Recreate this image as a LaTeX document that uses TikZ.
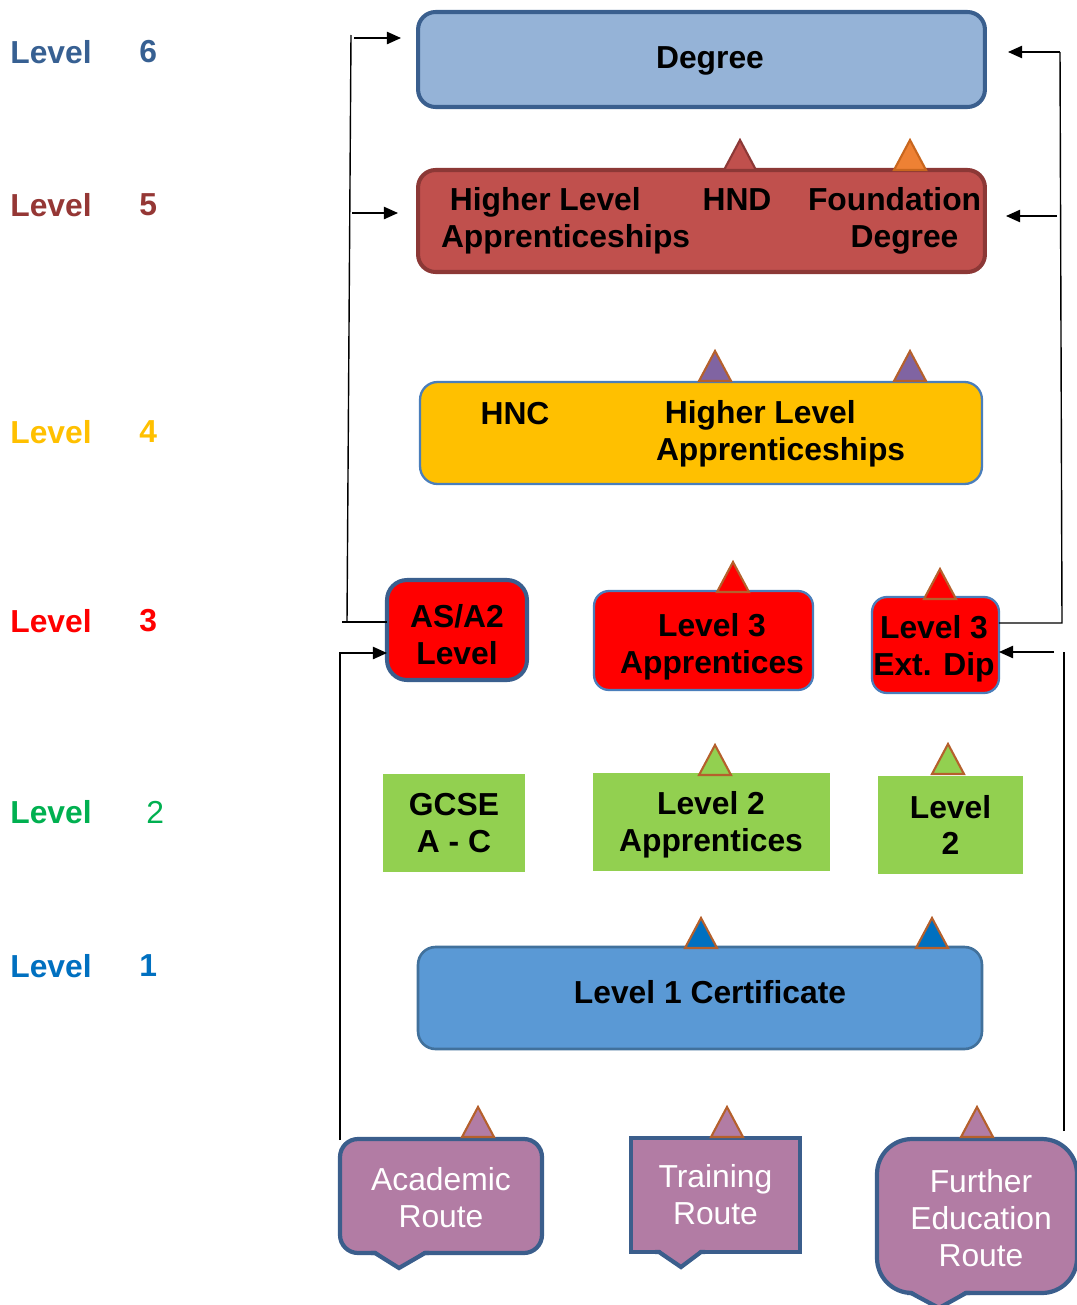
\documentclass[tikz,border=0pt]{standalone}
\usepackage{fontspec}
\setmainfont{Liberation Sans}
\usepackage{tikz}
\usetikzlibrary{calc}
\usetikzlibrary{arrows.meta}

\definecolor{levelsix}{HTML}{376092}
\definecolor{levelfive}{HTML}{953735}
\definecolor{levelfour}{HTML}{FFC000}
\definecolor{levelthree}{HTML}{FF0000}
\definecolor{leveltwo}{HTML}{00B050}
\definecolor{levelone}{HTML}{0070C0}
\definecolor{degfill}{HTML}{95B3D7}
\definecolor{degrim}{HTML}{3A5F8E}
\definecolor{fivefill}{HTML}{C0504D}
\definecolor{fiverim}{HTML}{8C3836}
\definecolor{thinrim}{HTML}{4A7EBB}
\definecolor{twofill}{HTML}{92D050}
\definecolor{onefill}{HTML}{5A99D5}
\definecolor{onerim}{HTML}{41719C}
\definecolor{routefill}{HTML}{B27CA4}
\definecolor{routerim}{HTML}{3B5E8C}
\definecolor{peakrim}{HTML}{B5602C}
\definecolor{orangefill}{HTML}{EE8134}
\definecolor{orangerim}{HTML}{C8661E}
\definecolor{purplefill}{HTML}{8064A2}

\tikzstyle{box}=[rounded corners=0.35cm, font={\bfseries\fontsize{18.1}{21}\selectfont}, align=center, inner sep=0mm, outer sep=0mm]
\tikzstyle{route}=[rounded corners=0.36cm, fill=routefill, draw=routerim, line width=2.4pt, text=white, font={\fontsize{18.1}{21}\selectfont}, align=center, inner sep=0mm, outer sep=0mm]
\tikzstyle{tag}=[font={\bfseries\fontsize{18.1}{21}\selectfont}, inner sep=0mm, anchor=west]
\tikzstyle{link}=[-{Triangle[length=8pt, width=7pt]}, line width=.8pt]
\tikzstyle{wire}=[line width=.8pt]
\tikzstyle{peak}=[line width=1.2pt, line join=miter]
\tikzstyle{tailrim}=[draw=routerim, line width=2.4pt, line join=miter]

% small triangle sitting on a box: [rim] x, base y, fill
\newcommand{\spike}[4][peakrim]{\draw[peak, draw=#1, fill=#4] (#2-16,#3) -- (#2,#3-30) -- (#2+16,#3) -- cycle;}
% pointer under a route box: left x, tip x, right x, base y
\newcommand{\routetail}[4]{%
  \fill[routefill] (#1,#4-3) -- (#2,#4+15) -- (#3,#4-3) -- cycle;
  \draw[tailrim] (#1-4,#4) -- (#1,#4) -- (#2,#4+15) -- (#3,#4) -- (#3+4,#4);}

\begin{document}
\begin{tikzpicture}[x=0.02cm, y=-0.02cm]
    \useasboundingbox (0,0) rectangle (1077,1305);

    % level names
    \node[tag, text=levelsix] (tag6) at (10,52) {Level};
    \node[tag, text=levelsix] (num6) at (139,52) {6};
    \node[tag, text=levelfive] (tag5) at (10,205) {Level};
    \node[tag, text=levelfive] (num5) at (139,205) {5};
    \node[tag, text=levelfour] (tag4) at (10,432) {Level};
    \node[tag, text=levelfour] (num4) at (139,432) {4};
    \node[tag, text=levelthree] (tag3) at (10,621) {Level};
    \node[tag, text=levelthree] (num3) at (139,621) {3};
    \node[tag, text=leveltwo] (tag2) at (10,812) {Level};
    \node[tag, text=leveltwo, font={\fontsize{18.1}{21}\selectfont}] (num2) at (146,812) {2};
    \node[tag, text=levelone] (tag1) at (10,966) {Level};
    \node[tag, text=levelone] (num1) at (139,966) {1};

    % level 6 and 5
    \node[box, fill=degfill, draw=degrim, line width=2.3pt, minimum width=11.34cm, minimum height=1.9cm] (degree) at (701.5,59.5) {};
    \node[box] (degreetext) at (710,61) {Degree};
    \node[box, fill=fivefill, draw=fiverim, line width=2.3pt, minimum width=11.34cm, minimum height=2.04cm] (five) at (701.5,221) {};
    \node[box, align=left, anchor=west] (hlafive) at (441,221) {\hspace*{.28em}Higher Level\\Apprenticeships};
    \node[box] (hnd) at (737,200) {HND};
    \node[box, align=left, anchor=west] (found) at (808,221) {Foundation\\\hspace*{1.34em}Degree};

    % level 4
    \node[box, fill=levelfour, draw=thinrim, line width=1.3pt, minimum width=11.24cm, minimum height=2.04cm] (four) at (701,433) {};
    \node[box] (hnc) at (515,414) {HNC};
    \node[box, align=left, anchor=west] (hlafour) at (656,434) {\hspace*{.28em}Higher Level\\Apprenticeships};

    % level 3
    \node[box, fill=levelthree, draw=degrim, line width=2.3pt, rounded corners=0.4cm, minimum width=2.8cm, minimum height=2cm] (asa) at (457,630) {};
    \node[box] (asatext) at (457,635) {AS/A2\\Level};
    \node[box, fill=levelthree, draw=thinrim, line width=1.3pt, rounded corners=0.3cm, minimum width=4.38cm, minimum height=1.98cm] (lthreeapp) at (703.5,640.5) {};
    \node[box] (lthreeapptext) at (712,647) {Level 3\\Apprentices};
    \node[box, fill=levelthree, draw=thinrim, line width=1.3pt, rounded corners=0.3cm, minimum width=2.54cm, minimum height=1.92cm] (extdip) at (935.5,645) {};
    \node[box] (extdiptext) at (934,649) {Level 3\\Ext. Dip};

    % level 2
    \node[box, rounded corners=0pt, fill=twofill, minimum width=2.84cm, minimum height=1.96cm] (gcse) at (454,823) {GCSE\\A - C};
    \node[box, rounded corners=0pt, fill=twofill, minimum width=4.74cm, minimum height=1.96cm] (ltwoapp) at (711.5,822) {};
    \node[box] (ltwoapptext) at (711,825) {Level 2\\Apprentices};
    \node[box, rounded corners=0pt, fill=twofill, minimum width=2.9cm, minimum height=1.96cm] (ltwo) at (950.5,825) {Level\\2};

    % level 1
    \node[box, fill=onefill, draw=onerim, line width=1.5pt, minimum width=11.28cm, minimum height=2.04cm] (lone) at (700,998) {};
    \node[box] (lonetext) at (710,992) {Level 1 Certificate};

    % routes
    \node[route, minimum width=4.04cm, minimum height=2.28cm] (academic) at (441,1196) {};
    \node[route, draw=none, fill=none] (academictext) at (441,1198) {Academic\\Route};
    \node[route, rounded corners=0pt, minimum width=3.38cm, minimum height=2.28cm] (training) at (715.5,1195) {Training\\Route};
    \node[route, rounded corners=0.7cm, minimum width=4cm, minimum height=3.08cm] (further) at (977,1216) {};
    \node[route, draw=none, fill=none] (furthertext) at (981,1218) {Further\\Education\\Route};
    \routetail{375}{399}{425}{1253}
    \routetail{659}{681}{701}{1252}
    \routetail{911}{939}{966}{1293}

    % triangles
    \spike[fiverim]{740}{170}{fivefill}
    \spike[orangerim]{910}{170}{orangefill}
    \spike{715}{381}{purplefill}
    \spike{910}{381}{purplefill}
    \spike{733}{592}{levelthree}
    \spike{940}{599}{levelthree}
    \spike{715}{775}{twofill}
    \spike{948}{774}{twofill}
    \spike{701}{948}{levelone}
    \spike{932}{948}{levelone}
    \spike{478}{1137}{routefill}
    \spike{727}{1137}{routefill}
    \spike{977}{1137}{routefill}

    % academic side
    \coordinate (lup) at (351,35);
    \coordinate (lcorner) at (347,622);
    \coordinate (degin) at (401,38);
    \coordinate (fivein) at (398,213);
    \draw[wire] (asa.west |- lcorner) -- ++(-45,0);
    \draw[wire] (lcorner) -- (lup);
    \draw[link] (lup |- degin) ++(3,0) -- (degin);
    \draw[link] (lup |- fivein) ++(1,0) -- (fivein);
    \coordinate (lbot) at (340,1140);
    \draw[link] (lbot) |- (asa.west |- 0,653);

    % further education side
    \coordinate (rup) at (1060,52);
    \coordinate (rcorner) at (1062,623);
    \coordinate (degout) at (1008,52);
    \coordinate (fiveout) at (1006,216);
    \draw[wire] (extdip.east |- rcorner) -- (rcorner) -- (rup);
    \draw[link] (rup) -- (degout);
    \draw[link] (1057,216) -- (fiveout);
    \coordinate (rbot) at (1064,1131);
    \coordinate (rmid) at (1064,652);
    \draw[wire] (rbot) -- (rmid);
    \draw[link] (1054,652) -- (extdip.east |- rmid);

\end{tikzpicture}
\end{document}
